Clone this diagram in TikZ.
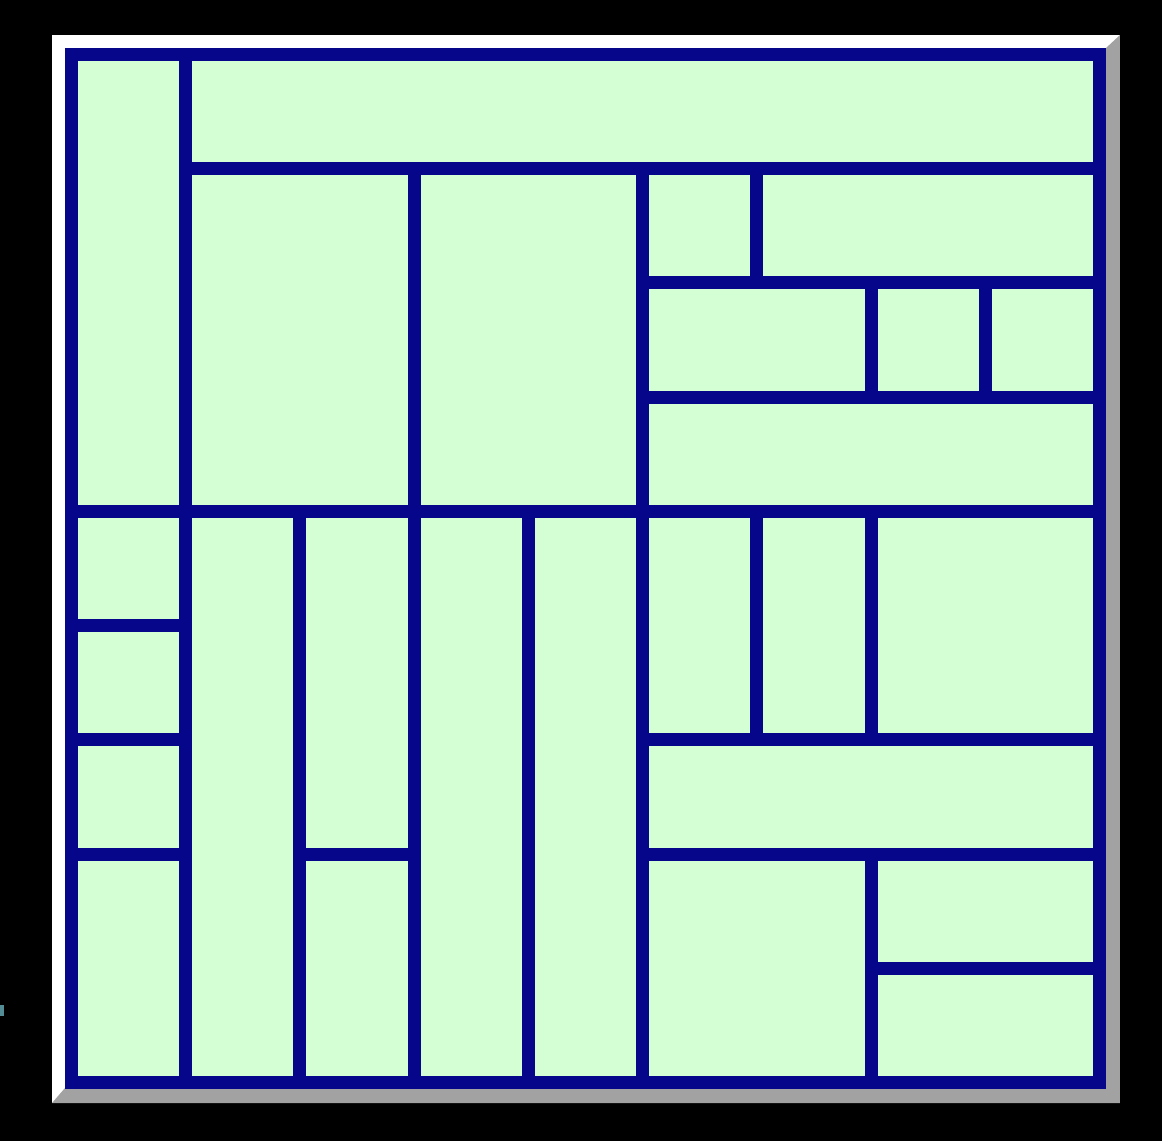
\documentclass[tikz,border=0pt]{standalone}
\usepackage{tikz}
\usepackage{xcolor}

\definecolor{PanelGreen}{RGB}{212,254,212}
\definecolor{WallNavy}{RGB}{6,6,138}
\definecolor{ShadowGrey}{RGB}{162,162,162}
\definecolor{SpeckTeal}{RGB}{84,140,150}
\tikzset{
	backdrop/.style={fill=black},
	bevellight/.style={fill=white},
	bevelshade/.style={fill=ShadowGrey},
	panel/.style={fill=PanelGreen},
	wall/.style={WallNavy, line width=3.7pt, line cap=rect, line join=miter},
}

\begin{document}
\begin{tikzpicture}[x=0.01cm, y=-0.01cm]
			
			% Black background, fixes the page size
			\fill[backdrop] (0,0) rectangle (1162,1141);
			\useasboundingbox (0,0) rectangle (1162,1141);
			
			% Small speck at the left edge
			\fill[SpeckTeal] (0,1005) rectangle (4,1016);
			
			% Raised frame: light top/left, shaded right/bottom
			\fill[bevellight] (52,35) rectangle (1120,1103);
			\fill[bevelshade] (1120,35) -- (1120,1103) -- (52,1103) -- (65,1088)
				-- (1106,1088) -- (1106,48) -- cycle;
			
			% Green panel
			\fill[panel] (65,48) rectangle (1106,1088);
			
			% Walls on a 9 x 9 grid
			\begin{scope}[shift={(71.5,54.5)}, x=1.1417cm, y=-1.1417cm]
				
				% Outer wall
				\draw[wall] (0,0) rectangle (9,9);
				
				% Main divisions
				\draw[wall] (1,0) -- (1,9);
				\draw[wall] (1,1) -- (9,1);
				\draw[wall] (0,4) -- (9,4);
				\draw[wall] (3,1) -- (3,9);
				\draw[wall] (5,1) -- (5,9);
				
				% Upper right block
				\draw[wall] (6,1) -- (6,2);
				\draw[wall] (5,2) -- (9,2);
				\draw[wall] (7,2) -- (7,3);
				\draw[wall] (8,2) -- (8,3);
				\draw[wall] (5,3) -- (9,3);
				
				% Left column
				\draw[wall] (0,5) -- (1,5);
				\draw[wall] (0,6) -- (1,6);
				\draw[wall] (0,7) -- (1,7);
				
				% Lower middle strips
				\draw[wall] (2,4) -- (2,9);
				\draw[wall] (2,7) -- (3,7);
				\draw[wall] (4,4) -- (4,9);
				
				% Lower right block
				\draw[wall] (6,4) -- (6,6);
				\draw[wall] (7,4) -- (7,6);
				\draw[wall] (5,6) -- (9,6);
				\draw[wall] (5,7) -- (9,7);
				\draw[wall] (7,7) -- (7,9);
				\draw[wall] (7,8) -- (9,8);
				
			\end{scope}
			
		\end{tikzpicture}
\end{document}
